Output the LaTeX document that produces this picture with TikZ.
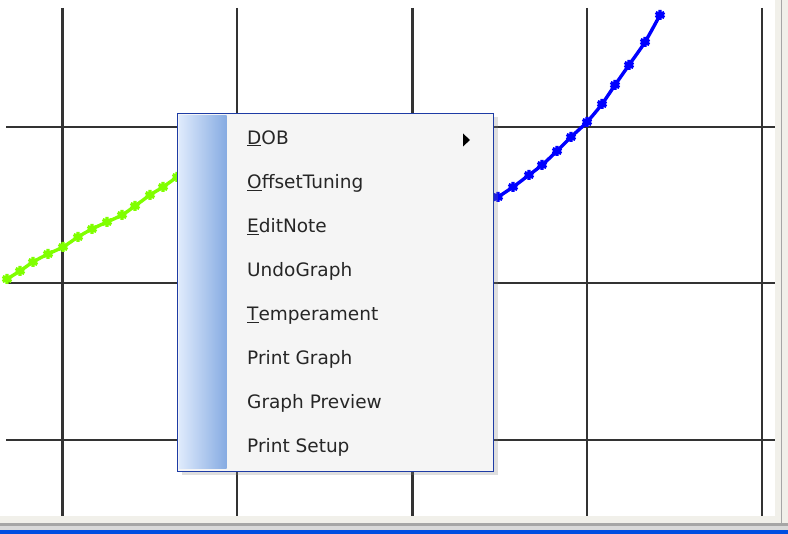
\documentclass[tikz,border=0pt]{standalone}
\usepackage{fontspec}
\setmainfont{DejaVu Sans}
\usepackage{xcolor}
\usetikzlibrary{
    positioning,
    plotmarks,
    shadows
}
\definecolor{xpblue}{RGB}{0,78,225}
\definecolor{menuedge}{RGB}{30,60,165}
\definecolor{menufill}{RGB}{245,245,245}
\definecolor{panel}{RGB}{241,240,234}
\definecolor{stripL}{RGB}{222,234,252}
\definecolor{stripR}{RGB}{134,171,226}
\definecolor{lime}{RGB}{128,255,0}
\tikzset{%
    % Specifications for style of the chart:
    gridline/.style = {draw=black!80, line width=2.2pt},
    series/.style = {
        line width=3.4pt,
        mark=asterisk, mark size=5pt,
        mark options={line width=3.4pt}
    },
    % Specifications for style of the popup menu:
    menubox/.style = {
        rectangle, draw=menuedge, line width=1.8pt, fill=menufill,
        minimum width=316pt, minimum height=358pt, inner sep=0pt,
        drop shadow={shadow xshift=4pt, shadow yshift=-4pt, opacity=.25}
    },
    item/.style = {
        anchor=base west, inner sep=0pt,
        font=\fontsize{18.5}{20}\selectfont, text=black!85
    }
}
\begin{document}
\begin{tikzpicture}[x=1pt, y=-1pt]
    \useasboundingbox (0,0) rectangle (788,534);
    \fill[white] (0,0) rectangle (788,534);
    % window frame
    \fill[panel] (775,0) rectangle (788,534);
    \fill[panel] (0,516) rectangle (788,534);
    \draw[black!35, line width=1pt] (781.5,0) -- (781.5,523.5);
    \fill[black!35] (0,523) rectangle (788,526.5);
    \fill[black!15] (0,526.5) rectangle (788,530.5);
    \fill[xpblue] (0,530.5) rectangle (788,534);
    % grid
    \draw[gridline] (62.5,8) -- (62.5,516);
    \draw[gridline] (237.3,8) -- (237.3,516);
    \draw[gridline] (412.5,8) -- (412.5,516);
    \draw[gridline] (587.3,8) -- (587.3,516);
    \draw[gridline] (761.7,8) -- (761.7,516);
    \draw[gridline] (6,126.7) -- (775,126.7);
    \draw[gridline] (6,283.3) -- (775,283.3);
    \draw[gridline] (6,440) -- (775,440);
    % curves
    \draw[series, lime] plot[smooth] coordinates {
        (7,279) (20,271) (33,262) (48,254) (63,247) (78,237) (92,229)
        (107,222) (122,215) (135,206) (150,195) (163,187) (177,177)};
    \draw[series, blue] plot[smooth] coordinates {
        (483,206) (498,197) (513,187) (529,175) (542,165) (557,151) (571,137)
        (587,122) (602,104) (615,85) (629,65) (645,42) (660,15)};
    % popup menu
    \node[menubox] (menu) at (335.5,292.5) {};
    \shade[left color=stripL, right color=stripR] (179,116) rectangle (226.5,469);
    \node[item] (dob) at (247,144.3) {\underline{D}OB};
    \node[item] (offset) at (247,188.4) {\underline{O}ffsetTuning};
    \node[item] (editnote) at (247,232.5) {\underline{E}ditNote};
    \node[item] (undo) at (247,276.6) {UndoGraph};
    \node[item] (temper) at (247,320.7) {\underline{T}emperament};
    \node[item] (print) at (247,364.8) {Print Graph};
    \node[item] (preview) at (247,408.9) {Graph Preview};
    \node[item] (setup) at (247,453) {Print Setup};
    \fill[black] (463,133.5) -- (470,140) -- (463,146.5) -- cycle;
\end{tikzpicture}
\end{document}
